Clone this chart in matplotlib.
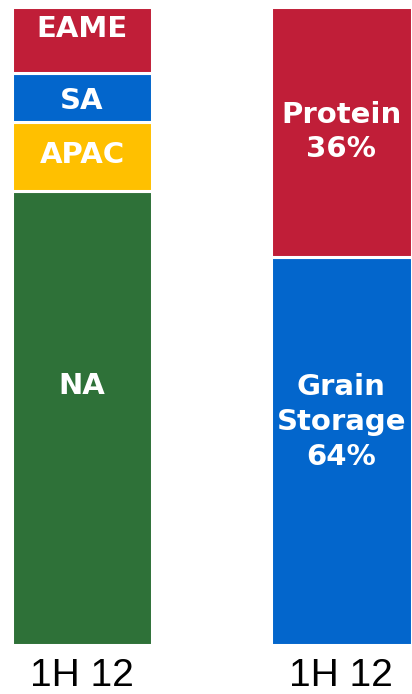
import matplotlib
matplotlib.use("Agg")
import matplotlib.pyplot as plt
import numpy as np

# Data
categories = ["1H 12", "1H 12"]
region_names = ["NA", "APAC", "SA", "EAME"]
region_values = [71.2, 10.7, 7.8, 10.3]
region_colors = ["#2E7138", "#FFC000", "#0366CC", "#C01E38"]
segment_names = ["Grain\nStorage\n64%", "Protein\n36%"]
segment_values = [60.8, 39.2]
segment_colors = ["#0366CC", "#C01E38"]

# label vertical offsets (pixels) relative to segment centre
region_offsets = [32, 1.5, -3.5, 11]
segment_offsets = [29, 0]

fig = plt.figure(figsize=(4.12, 6.94), dpi=100)
ax = fig.add_axes([0, 49/694, 1, 638/694])

x = np.arange(len(categories))
width = 0.543
px_per_pt = 100/72

def stack(xpos, names, values, colors, offsets):
    bottom = 0
    for n, v, c, off in zip(names, values, colors, offsets):
        ax.bar(xpos, v, width, bottom=bottom, color=c, edgecolor="white", linewidth=2.2)
        ax.annotate(n, (xpos, bottom + v/2), xytext=(0, off/px_per_pt), textcoords="offset points",
                    ha="center", va="center", color="white", fontsize=21,
                    fontweight="bold", family="DejaVu Sans", linespacing=1.3)
        bottom += v

stack(x[0], region_names, region_values, region_colors, region_offsets)
stack(x[1], segment_names, segment_values, segment_colors, segment_offsets)

ax.set_xlim(-0.316, 1.272)
ax.set_ylim(0, 100)
ax.set_xticks(x)
ax.set_xticklabels(categories, fontsize=28, family="Liberation Sans")
ax.tick_params(axis="x", length=0, pad=9)
ax.set_yticks([])
for s in ax.spines.values():
    s.set_visible(False)

fig.savefig("out.png", dpi=100)
